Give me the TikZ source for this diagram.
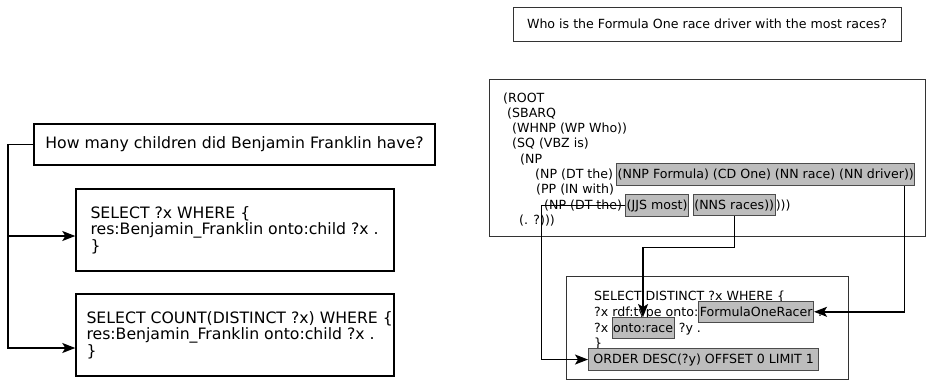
\documentclass[tikz,border=0pt]{standalone}
\usepackage{fontspec}
\setmainfont{DejaVu Sans}
\usetikzlibrary{positioning,arrows.meta}

\begin{document}
\begin{tikzpicture}[x=1pt,y=-1pt,
  box/.style={draw,line width=1.4pt,inner sep=0pt},
  tbox/.style={draw=black!80,line width=.9pt,inner sep=0pt},
  big/.style={font=\fontsize{15.7}{16.5}\selectfont},
  small/.style={font=\fontsize{12.6}{15}\selectfont},
  ln/.style={small,inner sep=0pt,anchor=base west},
  hl/.style={small,fill=black!26,draw=black!70,line width=.9pt,inner xsep=1pt,inner ysep=0pt,minimum height=21.5pt,anchor=base west},
  link/.style={line width=1.4pt,-{Stealth[length=13pt,width=10pt,inset=3pt]}}]
\useasboundingbox (0,0) rectangle (927,380);
% left question and its two queries
\node[box,big,minimum width=401pt,minimum height=41pt] (qA) at (234.5,144.5) {How many children did Benjamin Franklin have?};
\node[box,minimum width=318pt,minimum height=82pt] (sA1) at (235,230) {};
\node[box,minimum width=318pt,minimum height=82pt] (sA2) at (235,335) {};
\node[big,align=left,inner sep=0pt,right=15pt of sA1.west] (sA1t) {SELECT ?x WHERE \{\\res:Benjamin\_Franklin onto:child ?x .\\\}};
\node[big,align=left,inner sep=0pt,right=11pt of sA2.west] (sA2t) {SELECT COUNT(DISTINCT ?x) WHERE \{\\res:Benjamin\_Franklin onto:child ?x .\\\}};
%
\coordinate (jA) at (8,144.5);
\draw[link] (qA.west) -- (jA) |- ([yshift=-13pt]sA2.west);
\draw[link] (jA) |- ([yshift=-6pt]sA1.west);
%
% right question
\node[tbox,small,minimum width=388pt,minimum height=34pt] (qB) at (707,24) {Who is the Formula One race driver with the most races?};
% parse tree
\node[tbox,minimum width=436pt,minimum height=157pt] (tree) at (707,157.5) {};
\node[ln] (t1) at (503,102) {(ROOT};
\node[ln] (t2) at (507,117.3) {(SBARQ};
\node[ln] (t3) at (512,132.6) {(WHNP (WP Who))};
\node[ln] (t4) at (512,147.9) {(SQ (VBZ is)};
\node[ln] (t5) at (520,163.2) {(NP};
\node[ln] (t6) at (535,178.5) {(NP (DT the)};
\node[hl] (drv) at ([xshift=3pt]t6.base east) {(NNP Formula) (CD One) (NN race) (NN driver))};
\node[ln] (t7) at (536,193.8) {(PP (IN with)};
\node[ln] (t8) at (544,209.1) {(NP (DT the)};
\node[hl] (jjs) at ([xshift=3pt]t8.base east) {(JJS most)};
\node[hl] (nns) at ([xshift=4pt]jjs.base east) {(NNS races))};
\node[ln] (t8b) at (nns.base east) {)))};
\node[ln] (t9) at (519,224.4) {(. ?)))};
%
% sparql query
\node[tbox,minimum width=282pt,minimum height=103pt] (sB) at (707,327.5) {};
\node[ln] (s1) at (594,300.5) {SELECT DISTINCT ?x WHERE \{};
\node[ln] (s2) at (594,316.5) {?x rdf:type onto:};
\node[hl] (fone) at (s2.base east) {FormulaOneRacer};
\node[ln] (s2b) at ([xshift=4pt]fone.base east) {.};
\node[ln] (s3) at (594,332.5) {?x};
\node[hl] (race) at ([xshift=3pt]s3.base east) {onto:race};
\node[ln] (s3b) at ([xshift=4pt]race.base east) {?y .};
\node[ln] (s4) at (594,347) {\}};
\node[hl,inner xsep=5pt] (order) at (588,363) {ORDER DESC(?y) OFFSET 0 LIMIT 1};
%
\draw[link] ([xshift=-11pt]drv.south east) |- (fone.east);
\draw[link] (nns.south) -- ++(0,31) -| (race.north);
\draw[link] (jjs.west) -- ++(-84,0) |- (order.west);
\end{tikzpicture}
\end{document}
